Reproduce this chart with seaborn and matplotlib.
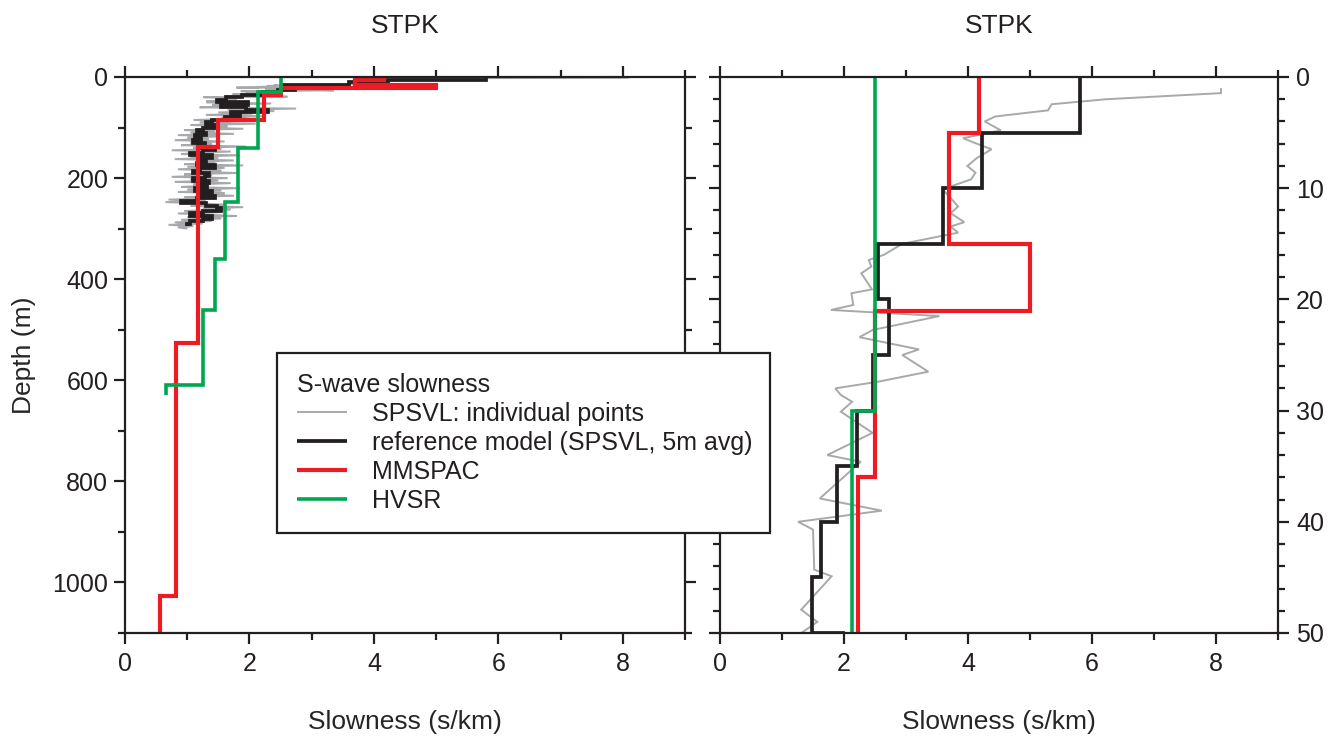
import numpy as np
import pandas as pd
import matplotlib
matplotlib.use("Agg")
import matplotlib.pyplot as plt
from matplotlib.ticker import MultipleLocator
import seaborn as sns

# ---------------- data ----------------
# SPSVL individual points (depth in m, slowness in s/km)
spsvl_depth_shallow = [1.0, 1.45, 2.0, 2.45, 3.0, 3.55, 4.0, 4.8, 5.5, 5.95, 6.5, 7.3, 8.0, 8.6,
                       9.2, 10.1, 10.75, 11.65, 12.25, 13.05, 13.45, 14.0, 14.6, 15.0, 16.0, 16.45,
                       17.05, 17.65, 19.1, 19.45, 20.5, 20.95, 21.5, 22.75, 23.4, 24.5, 25.0, 26.5,
                       27.4, 28.0, 28.6, 29.2, 30.1, 32.0, 34.0, 34.6, 37.9, 39.0, 40.0, 40.7, 44.3,
                       44.9, 47.9, 49.0, 50.0]
spsvl_slow_shallow = [8.08, 8.08, 6.23, 5.35, 5.29, 4.44, 4.27, 4.53, 3.92, 4.12, 4.38, 4.14, 3.99, 4.12,
                      4.05, 3.59, 3.70, 3.84, 3.72, 3.94, 3.72, 3.84, 3.30, 2.94, 2.64, 2.40,
                      2.44, 2.28, 2.45, 2.12, 2.15, 1.79, 3.54, 2.46, 2.25, 3.21, 2.94, 3.36,
                      2.55, 1.86, 1.95, 2.13, 1.95, 2.46, 1.73, 2.27, 1.61, 2.61, 1.26, 1.50, 1.52,
                      1.80, 1.31, 1.57, 1.31]
spsvl_depth_deep = np.arange(52.5, 300.01, 2.5)
spsvl_slow_deep = [2.35, 1.40, 1.85, 1.20, 2.75, 1.65, 2.40, 1.50, 2.05, 1.30, 2.20, 1.55, 1.95, 1.10, 1.70, 1.20, 2.10, 1.05, 1.65, 1.25,
                   1.90, 0.95, 1.45, 1.05, 1.75, 0.85, 1.50, 1.00, 1.35, 0.80, 1.60, 1.05, 1.40, 0.90, 1.95, 1.10, 1.55, 0.75, 1.70, 1.15,
                   0.90, 1.85, 1.05, 1.50, 0.80, 1.75, 1.20, 1.45, 0.95, 1.90, 1.00, 1.60, 0.85, 1.55, 1.15, 1.80, 0.95, 1.40, 0.75, 1.65,
                   1.05, 1.50, 0.80, 1.70, 1.10, 1.35, 0.90, 1.85, 1.00, 1.55, 0.85, 1.60, 1.20, 1.75, 0.95, 1.45, 0.70, 1.30, 0.65, 1.20,
                   1.60, 1.05, 1.90, 1.25, 1.70, 0.95, 1.50, 0.85, 1.35, 1.80, 1.00, 1.55, 0.90, 1.40, 0.80, 1.25, 0.70, 1.10, 0.85, 1.00]

# Reference model (SPSVL, 5 m average): layer boundaries and slowness
ref_bounds = np.arange(0, 296, 5)
ref_slow = [5.80, 4.23, 3.60, 2.55, 2.73, 2.46, 2.21, 1.88, 1.63, 1.48,
            1.98, 1.55, 1.95, 2.30, 1.70, 1.85, 1.60, 1.40, 1.30, 1.45,
            1.25, 1.15, 1.30, 1.12, 1.22, 1.10, 1.28, 1.18, 1.45, 1.25,
            1.05, 1.40, 1.22, 1.30, 1.15, 1.45, 1.20, 1.10, 1.35, 1.28,
            1.10, 1.35, 1.18, 1.32, 1.12, 1.40, 1.22, 1.45, 1.15, 0.90,
            1.30, 1.48, 1.55, 1.25, 1.05, 1.40, 1.25, 1.05, 1.00]

# MMSPAC layered model
mmspac_bounds = [0, 5, 15, 21, 36, 86, 139, 526, 1026, 1200]
mmspac_slow = [4.17, 3.70, 5.00, 2.50, 2.23, 1.49, 1.18, 0.82, 0.57]

# HVSR layered model
hvsr_bounds = [0, 30, 140, 248, 360, 460, 610, 630]
hvsr_slow = [2.50, 2.13, 1.81, 1.60, 1.45, 1.26, 0.66]

titles = ["STPK", "STPK"]
labels = ["SPSVL: individual points", "reference model (SPSVL, 5m avg)", "MMSPAC", "HVSR"]
legend_title = "S-wave slowness"
xlabel = "Slowness (s/km)"
ylabel = "Depth (m)"

# ---------------- helpers ----------------
def step_profile(bounds, values):
    b = np.asarray(bounds, dtype=float)
    v = np.asarray(values, dtype=float)
    depth = np.repeat(b, 2)[1:-1]
    slow = np.repeat(v, 2)
    return slow, depth

gray_x = np.concatenate([spsvl_slow_shallow, spsvl_slow_deep])
gray_y = np.concatenate([spsvl_depth_shallow, spsvl_depth_deep])
ref_x, ref_y = step_profile(ref_bounds, ref_slow)
mm_x, mm_y = step_profile(mmspac_bounds, mmspac_slow)
hv_x, hv_y = step_profile(hvsr_bounds, hvsr_slow)

series = [
    (gray_x, gray_y, "#A7A9AC", 1.4),
    (ref_x, ref_y, "#231F20", 2.7),
    (mm_x, mm_y, "#ED1C24", 3.0),
    (hv_x, hv_y, "#00A651", 2.6),
]

# ---------------- style ----------------
sns.set_theme(style="ticks")
plt.rcParams["font.family"] = ["Liberation Sans", "DejaVu Sans"]
plt.rcParams["axes.linewidth"] = 1.6
plt.rcParams["text.color"] = "#231F20"

W, H = 1341, 747
fig = plt.figure(figsize=(W / 100, H / 100), dpi=100)
ax1 = fig.add_axes([125 / W, 114 / H, 560 / W, 556 / H])
ax2 = fig.add_axes([720 / W, 114 / H, 558 / W, 556 / H])

for i, ax in enumerate((ax1, ax2)):
    for (x, y, c, lw), lab in zip(series, labels):
        sns.lineplot(x=x, y=y, sort=False, estimator=None, ax=ax, color=c,
                     linewidth=lw, label=lab, solid_capstyle="butt",
                     solid_joinstyle="miter")
    if ax.get_legend() is not None:
        ax.get_legend().remove()
    ax.set_xlim(0, 9)
    ax.xaxis.set_major_locator(MultipleLocator(2))
    ax.xaxis.set_minor_locator(MultipleLocator(1))
    ax.tick_params(which="both", direction="out", top=True, right=True,
                   bottom=True, left=True, width=1.6, color="#231F20",
                   labelcolor="#231F20", labelsize=18)
    ax.tick_params(which="major", length=8)
    ax.tick_params(which="minor", length=5)
    ax.tick_params(axis="x", pad=6)
    for sp in ax.spines.values():
        sp.set_color("#231F20")
        sp.set_visible(True)
    ax.set_xlabel(xlabel, fontsize=19, labelpad=24)
    ax.set_title(titles[i], fontsize=19, pad=32)

ax1.set_ylim(1100, 0)
ax1.yaxis.set_major_locator(MultipleLocator(200))
ax1.yaxis.set_minor_locator(MultipleLocator(100))
ax1.set_ylabel(ylabel, fontsize=19, labelpad=12)
ax1.tick_params(axis="y", labelleft=True, labelright=False, pad=4)

ax2.set_ylim(50, 0)
ax2.yaxis.set_major_locator(MultipleLocator(10))
ax2.yaxis.set_minor_locator(MultipleLocator(2))
ax2.set_ylabel("")
ax2.tick_params(axis="y", labelleft=False, labelright=True, pad=5)

handles = ax1.get_lines()[:4]
leg = fig.legend(handles, labels, title=legend_title, loc="upper left",
                 bbox_to_anchor=(277 / W, 1 - 527 / H, (770 - 277) / W, (527 - 353) / H),
                 mode="expand", borderaxespad=0, fontsize=18, title_fontsize=18,
                 alignment="left", frameon=True, fancybox=False, framealpha=1,
                 edgecolor="#231F20", handlelength=2.0, handletextpad=1.0,
                 labelspacing=0.2, borderpad=0.8)
leg.get_frame().set_linewidth(1.6)
leg.set_zorder(10)

fig.savefig("out.png", dpi=100)
